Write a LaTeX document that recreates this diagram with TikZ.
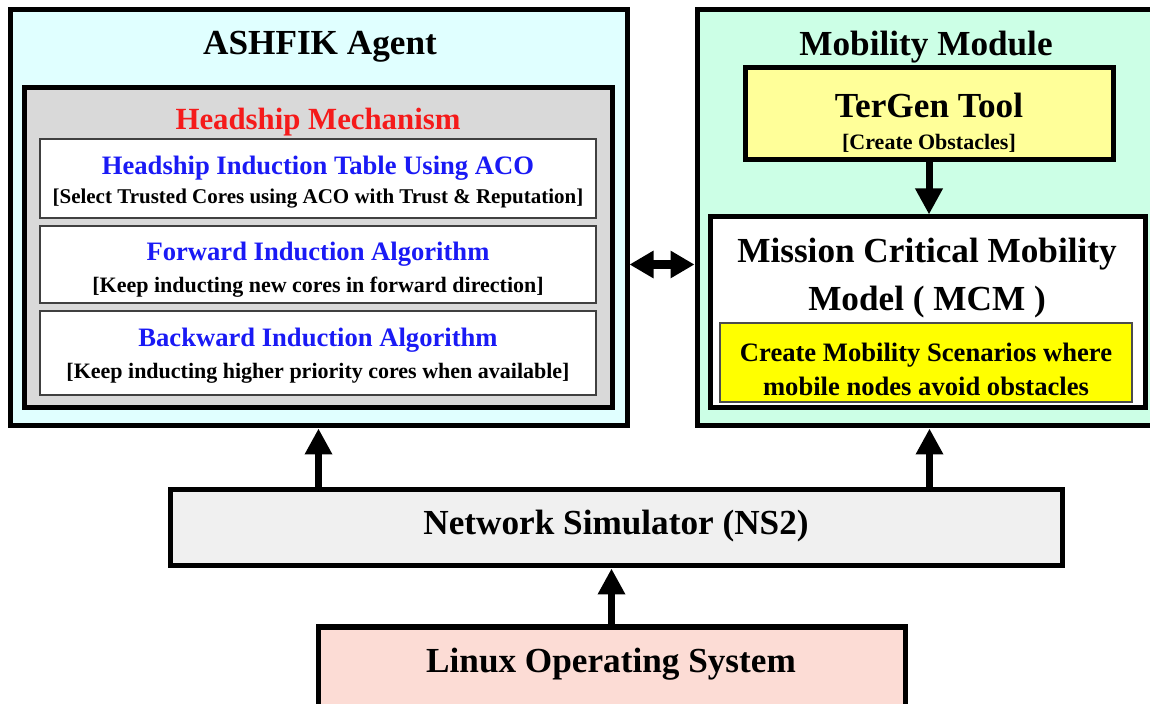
\documentclass[tikz,border=0pt]{standalone}
\usepackage{fontspec}
\setmainfont{Liberation Serif}
\usetikzlibrary{arrows.meta,fit}

\definecolor{agentcyan}{HTML}{E0FFFF}
\definecolor{mobmint}{HTML}{CCFFE6}
\definecolor{mechgray}{HTML}{D9D9D9}
\definecolor{toolyellow}{HTML}{FFFF99}
\definecolor{scenyellow}{HTML}{FFFF00}
\definecolor{nsgray}{HTML}{F0F0F0}
\definecolor{linuxpink}{HTML}{FCDCD5}
\definecolor{algoblue}{HTML}{1A1AF5}
\definecolor{mechred}{HTML}{F51A1A}

\tikzset{
  bigbox/.style={draw, line width=2.5pt, inner sep=0pt},
  subbox/.style={draw=black!75, line width=0.8pt, fill=white, inner sep=0pt},
  bigtext/.style={font=\fontsize{17.6}{24}\selectfont\bfseries, inner sep=0pt, align=center},
  midtext/.style={font=\fontsize{13.3}{17}\selectfont\bfseries, inner sep=0pt, align=center},
  smalltext/.style={font=\fontsize{11}{13}\selectfont\bfseries, inner sep=0pt},
  upflow/.style={line width=3.5pt, -{Triangle[length=13pt,width=13pt]}},
  bothflow/.style={line width=4.5pt, {Triangle[length=12pt,width=13pt]}-{Triangle[length=12pt,width=13pt]}}
}

\begin{document}
\begin{tikzpicture}[x=0.5pt,y=-0.5pt]
        \useasboundingbox (0,0) rectangle (1150,704);
        \clip (0,0) rectangle (1150,704);

        % ASHFIK agent
        \node[bigbox, fill=agentcyan, fit={(10,10) (627,426)}] (agent) {};
        \node[bigtext] (agenttitle) at (320,47) {ASHFIK Agent};

        \node[bigbox, fill=mechgray, fit={(24,88) (612,408)}] (mech) {};
        \node[font=\fontsize{15.4}{18}\selectfont\bfseries, text=mechred, inner sep=0pt] (mechtitle) at (318,122) {Headship Mechanism};

        \node[subbox, fit={(40,139) (596,218)}] (table) {};
        \node[midtext, text=algoblue] (tabletitle) at (318,168) {Headship Induction Table Using ACO};
        \node[smalltext, font=\fontsize{10.5}{13}\selectfont\bfseries] (tablenote) at (318,199) {[Select Trusted Cores using ACO with Trust \& Reputation]};

        \node[subbox, fit={(40,226) (596,303)}] (fwd) {};
        \node[midtext, text=algoblue] (fwdtitle) at (318,254) {Forward Induction Algorithm};
        \node[smalltext] (fwdnote) at (318,287) {[Keep inducting new cores in forward direction]};

        \node[subbox, fit={(40,311) (596,395)}] (bwd) {};
        \node[midtext, text=algoblue] (bwdtitle) at (318,340) {Backward Induction Algorithm};
        \node[smalltext] (bwdnote) at (318,373) {[Keep inducting higher priority cores when available]};

        % Mobility module
        \node[bigbox, fill=mobmint, fit={(697,10) (1162,426)}] (mobility) {};
        \node[bigtext] (mobtitle) at (926,47) {Mobility Module};

        \node[bigbox, fill=toolyellow, fit={(745,68) (1113,160)}] (tergen) {};
        \node[bigtext] (tergentitle) at (929,105) {TerGen Tool};
        \node[smalltext] (tergennote) at (929,143) {[Create Obstacles]};

        \node[bigbox, fill=white, fit={(710,217) (1145,408)}] (mcm) {};
        \node[bigtext] (mcmtitle) at (927,278) {Mission Critical Mobility\\Model ( MCM )};

        \node[draw=black!70, line width=0.6pt, fill=scenyellow, inner sep=0pt, fit={(720,323) (1132,402)}] (scen) {};
        \node[midtext] (scentext) at (926,369) {Create Mobility Scenarios where\\mobile nodes avoid obstacles};

        % Simulator and OS
        \node[bigbox, fill=nsgray, fit={(170,490) (1062,566)}] (ns) {};
        \node[bigtext] (nstitle) at (616,526) {Network Simulator (NS2)};

        \node[bigbox, fill=linuxpink, fit={(318,627) (905,714)}] (linux) {};
        \node[bigtext] (linuxtitle) at (611,664) {Linux Operating System};

        % Arrows
        \draw[upflow] (ns.north -| agent.south) -- (agent.south);
        \draw[upflow] (ns.north -| mobility.south) -- (mobility.south);
        \draw[upflow] (linux.north) -- (linux.north |- ns.south);
        \draw[line width=3.5pt, -{Triangle[length=13pt,width=13pt]}] (tergen.south) -- (tergen.south |- mcm.north);
        \draw[bothflow] (fwd -| agent.east) -- (fwd -| mobility.west);
    \end{tikzpicture}
\end{document}
